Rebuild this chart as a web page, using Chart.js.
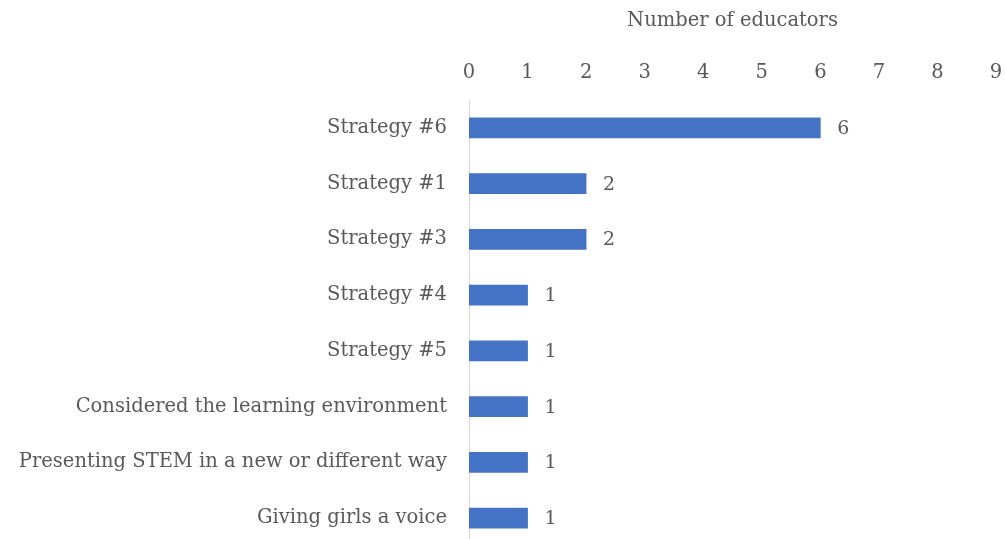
<!DOCTYPE html>
<html>
<head>
<meta charset="utf-8">
<script src="https://cdn.jsdelivr.net/npm/chart.js@4"></script>
<style>
html,body{margin:0;padding:0;background:#fff;overflow:hidden;}
#wrap{width:1005px;height:546px;position:relative;}
</style>
</head>
<body>
<div id="wrap"><canvas id="c"></canvas></div>
<script>
const categories = ["Strategy #6","Strategy #1","Strategy #3","Strategy #4","Strategy #5","Considered the learning environment","Presenting STEM in a new or different way","Giving girls a voice"];
const values = [6,2,2,1,1,1,1,1];
const tickLabels = ["0","1","2","3","4","5","6","7","8","9"];
const axisTitle = "Number of educators";

const FONT = "'DejaVu Serif', serif";
const TXT = "#595959";

const labelPlugin = {
  id:'valLabels',
  afterDatasetsDraw(chart){
    const ctx = chart.ctx;
    const meta = chart.getDatasetMeta(0);
    ctx.save();
    ctx.font = "19px " + FONT;
    ctx.fillStyle = TXT;
    ctx.textAlign = "left";
    ctx.textBaseline = "middle";
    meta.data.forEach((bar,i)=>{
      ctx.fillText(String(values[i]), bar.x + 17, bar.y + 1);
    });
    ctx.restore();
  }
};

new Chart(document.getElementById('c'), {
  type:'bar',
  data:{labels:categories, datasets:[{data:values, backgroundColor:'#4472C4', barThickness:20}]},
  options:{
    indexAxis:'y',
    responsive:true,
    maintainAspectRatio:false,
    animation:false,
    layout:{padding:{left:0,right:9,top:0,bottom:0}},
    plugins:{legend:{display:false},tooltip:{enabled:false}},
    scales:{
      x:{
        position:'top', min:0, max:9,
        afterFit(s){ s.height = 100; s.paddingLeft = 0; s.paddingRight = 0; },
        grid:{display:false, drawTicks:false},
        border:{display:false},
        ticks:{stepSize:1, color:TXT, font:{family:FONT,size:19.5}, padding:15,
          callback:(v,i)=>tickLabels[i]},
        title:{display:true, text:axisTitle, color:TXT, font:{family:FONT,size:19.5}, padding:{top:9,bottom:0}}
      },
      y:{
        afterFit(s){ s.width = 469; s.paddingTop = 0; s.paddingBottom = 0; },
        grid:{display:false, drawTicks:false},
        border:{display:true, color:'#D9D9D9', width:1},
        ticks:{color:TXT, font:{family:FONT,size:19.5}, padding:22}
      }
    }
  },
  plugins:[labelPlugin]
});
</script>
</body>
</html>
